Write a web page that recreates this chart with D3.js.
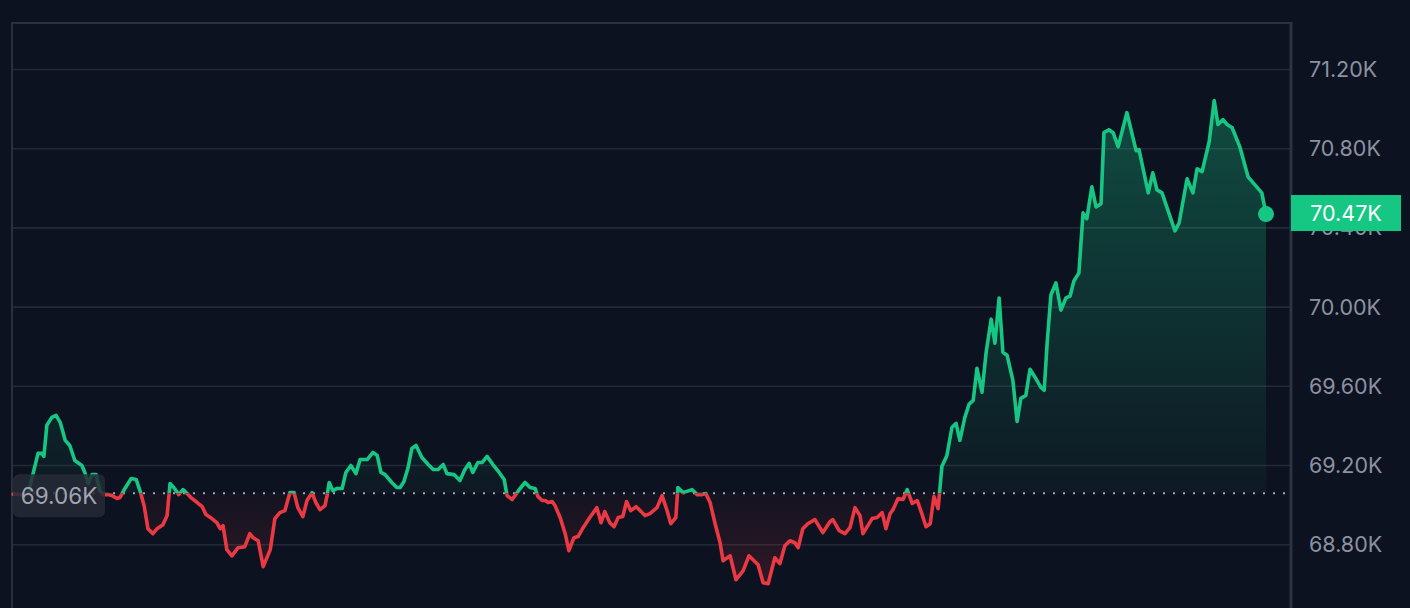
<!DOCTYPE html>
<html>
<head>
<meta charset="utf-8">
<script src="https://cdn.jsdelivr.net/npm/d3@7"></script>
<style>
html,body{margin:0;padding:0;background:#0d1220;overflow:hidden;}
svg{display:block;}
text{font-family:Inter,"Noto Sans",sans-serif;}
</style>
</head>
<body>
<svg id="chart" width="1410" height="608"></svg>
<script>
// minutes since start
const minutes = [0,3.6,4.8,6.0,6.9,7.4,8.1,9.3,10.3,11.3,12.5,13.6,14.8,16.5,17.2,18.0,18.9,19.9,20.8,21.5,22.7,23.7,24.9,25.6,26.8,28.3,29.5,30.4,31.4,32.3,33.5,34.5,35.9,36.9,37.6,38.5,39.7,40.7,41.7,42.6,44.1,45.3,46.2,47.6,48.8,49.6,50.3,51.2,52.4,53.9,55.5,56.7,57.5,58.7,59.9,61.6,62.7,63.9,65.1,66.3,67.3,68.2,69.4,70.4,71.6,72.5,73.5,74.7,75.2,75.7,76.6,77.6,78.8,79.7,80.9,82.1,83.1,84.8,86.2,87.2,88.1,89.1,90.7,91.9,92.7,93.6,94.6,95.5,96.5,97.9,99.4,100.6,101.8,103.0,103.9,105.6,107.0,108.2,109.2,110.1,111.3,112.3,113.5,114.9,116.4,117.6,118.3,119.5,120.2,121.4,122.6,123.8,125.0,125.7,126.7,127.4,128.1,129.1,129.8,131.0,132.2,133.1,134.3,135.3,136.5,138.1,139.8,140.8,141.7,142.9,143.9,144.9,146.0,146.9,147.9,149.2,150.4,151.3,152.5,154.2,155.4,156.6,157.5,158.7,159.2,160.4,162.6,163.8,165.0,165.9,166.9,168.1,169.3,170.0,171.7,173.1,174.8,176.2,178.4,179.6,180.8,182.4,183.6,184.8,186.0,187.2,188.0,189.1,190.3,192.0,193.9,195.6,196.3,197.8,199.2,200.4,201.6,202.8,203.5,205.7,206.9,208.1,209.0,210.0,210.7,211.9,213.1,214.1,215.3,216.5,217.6,218.6,219.6,220.5,221.5,222.4,223.6,224.8,225.8,226.7,227.9,228.9,229.9,230.8,232.0,233.0,234.2,235.1,236.1,237.0,238.0,239.4,240.4,241.3,242.5,243.5,244.7,246.1,246.9,247.6,248.5,249.7,250.9,252.1,253.1,254.0,255.2,256.2,257.1,258.3,259.3,260.5,261.2,262.4,263.4,264.6,266.7,268.9,269.6,271.8,272.9,273.9,275.1,278.2,279.2,281.1,282.5,283.5,284.7,286.4,287.6,288.5,289.7,290.7,291.9,293.8,295.7,299.0,300.0];
const prices = [69055,69053,69159,69261,69261,69246,69403,69443,69453,69418,69327,69301,69225,69200,69165,69109,69154,69154,69073,69053,69053,69048,69033,69038,69084,69134,69129,69073,68997,68881,68856,68881,68901,68947,69109,69089,69053,69078,69058,69038,69013,68992,68952,68932,68911,68881,68896,68775,68744,68785,68790,68856,68835,68820,68689,68775,68932,68962,68972,69063,69063,68987,68942,69023,69063,69013,68977,68997,69048,69114,69073,69084,69084,69165,69200,69159,69230,69230,69266,69251,69165,69154,69114,69089,69089,69119,69190,69286,69301,69240,69205,69180,69180,69205,69159,69154,69124,69180,69210,69165,69215,69215,69246,69205,69165,69129,69048,69028,69048,69084,69114,69089,69084,69043,69023,69023,69013,69018,68997,68937,68856,68770,68835,68841,68886,68937,68987,68911,68967,68911,68891,68937,68942,69018,68972,68992,68967,68947,68957,68987,69048,68972,68906,68937,69089,69063,69078,69053,69053,69058,69013,68906,68810,68719,68744,68623,68668,68744,68699,68608,68603,68734,68704,68795,68820,68810,68785,68881,68906,68927,68861,68916,68927,68871,68856,68886,68987,68947,68856,68932,68937,68962,68881,68957,68977,69033,69028,69078,69008,69023,68957,68891,68906,69043,68982,69195,69251,69392,69413,69327,69443,69509,69529,69691,69570,69772,69939,69818,70046,69772,69757,69630,69423,69539,69554,69686,69646,69595,69580,69818,70061,70122,69985,70046,70056,70132,70172,70476,70446,70608,70506,70522,70881,70896,70881,70810,70982,70790,70795,70577,70678,70592,70577,70385,70425,70648,70577,70699,70684,70835,71043,70922,70947,70922,70906,70805,70658,70577,70470];
const baseline = 69060;
const tickValues = [68800,69200,69600,70000,70400,70800,71200];
const tickLabels = ["68.80K","69.20K","69.60K","70.00K","70.40K","70.80K","71.20K"];
const baselineLabel = "69.06K";
const lastLabel = "70.47K";

const data = minutes.map((m,i)=>({t:m, v:prices[i]}));

const W = 1410, H = 608;
const GREEN = "#16c784", RED = "#ea3943", BG = "#0d1220";
const svg = d3.select("#chart");
svg.append("rect").attr("width",W).attr("height",H).attr("fill",BG);

const x = d3.scaleLinear().domain([0,300]).range([13,1266]);
const y = d3.scaleLinear().domain([68800,71200]).range([544.7,69.5]);
const yb = y(baseline);
const axisX = 1291;

// grid
svg.append("g").selectAll("line").data(tickValues).join("line")
  .attr("x1",12).attr("x2",axisX).attr("y1",d=>y(d)).attr("y2",d=>y(d))
  .attr("stroke","#242937").attr("stroke-width",1.6);

// frame
svg.append("line").attr("x1",11).attr("x2",axisX+1).attr("y1",23).attr("y2",23).attr("stroke","#2b303d").attr("stroke-width",2);
svg.append("line").attr("x1",12).attr("x2",12).attr("y1",22).attr("y2",H).attr("stroke","#2b303d").attr("stroke-width",2);
svg.append("line").attr("x1",axisX).attr("x2",axisX).attr("y1",22).attr("y2",H).attr("stroke","#2f3341").attr("stroke-width",3);

const defs = svg.append("defs");
defs.append("clipPath").attr("id","above").append("rect").attr("x",0).attr("y",0).attr("width",W).attr("height",yb);
defs.append("clipPath").attr("id","below").append("rect").attr("x",0).attr("y",yb).attr("width",W).attr("height",H-yb);

const gG = defs.append("linearGradient").attr("id","gG").attr("gradientUnits","userSpaceOnUse")
  .attr("x1",0).attr("x2",0).attr("y1",y(d3.max(prices))).attr("y2",yb);
gG.append("stop").attr("offset",0).attr("stop-color",GREEN).attr("stop-opacity",0.32);
gG.append("stop").attr("offset",1).attr("stop-color",GREEN).attr("stop-opacity",0.04);
const gR = defs.append("linearGradient").attr("id","gR").attr("gradientUnits","userSpaceOnUse")
  .attr("x1",0).attr("x2",0).attr("y1",yb).attr("y2",y(d3.min(prices)));
gR.append("stop").attr("offset",0).attr("stop-color",RED).attr("stop-opacity",0.03);
gR.append("stop").attr("offset",1).attr("stop-color",RED).attr("stop-opacity",0.16);

const area = d3.area().x(d=>x(d.t)).y0(yb).y1(d=>y(d.v));
const line = d3.line().x(d=>x(d.t)).y(d=>y(d.v));

svg.append("path").datum(data).attr("d",area).attr("fill","url(#gG)").attr("clip-path","url(#above)");
svg.append("path").datum(data).attr("d",area).attr("fill","url(#gR)").attr("clip-path","url(#below)");

// baseline dotted
svg.append("line").attr("x1",13).attr("x2",axisX-4).attr("y1",yb).attr("y2",yb)
  .attr("stroke","#a3a8b5").attr("stroke-width",2).attr("stroke-dasharray","2,8");

svg.append("path").datum(data).attr("d",line).attr("fill","none").attr("stroke",GREEN)
  .attr("stroke-width",3.6).attr("stroke-linejoin","round").attr("stroke-linecap","round").attr("clip-path","url(#above)");
svg.append("path").datum(data).attr("d",line).attr("fill","none").attr("stroke",RED)
  .attr("stroke-width",3.6).attr("stroke-linejoin","round").attr("stroke-linecap","round").attr("clip-path","url(#below)");

// tick labels
svg.append("g").selectAll("text").data(tickValues).join("text")
  .attr("x",1309).attr("y",d=>y(d)).attr("dy","0.35em")
  .attr("fill","#8c91a0").attr("font-size",21.5)
  .text((d,i)=>tickLabels[i]);

// baseline label
svg.append("rect").attr("x",13).attr("y",yb-19).attr("width",92).attr("height",43).attr("rx",6)
  .attr("fill","#262a36").attr("fill-opacity",0.85);
svg.append("text").attr("x",59).attr("y",yb+3).attr("dy","0.35em").attr("text-anchor","middle")
  .attr("fill","#a0a5b2").attr("font-size",22.5).text(baselineLabel);

// last point
const last = data[data.length-1];
svg.append("circle").attr("cx",x(last.t)).attr("cy",y(last.v)).attr("r",8).attr("fill",GREEN);
svg.append("rect").attr("x",axisX).attr("y",y(last.v)-19).attr("width",110).attr("height",36).attr("fill",GREEN);
svg.append("text").attr("x",axisX+55).attr("y",y(last.v)-1).attr("dy","0.35em").attr("text-anchor","middle")
  .attr("fill","#ffffff").attr("font-size",21.5).text(lastLabel);
</script>
</body>
</html>
